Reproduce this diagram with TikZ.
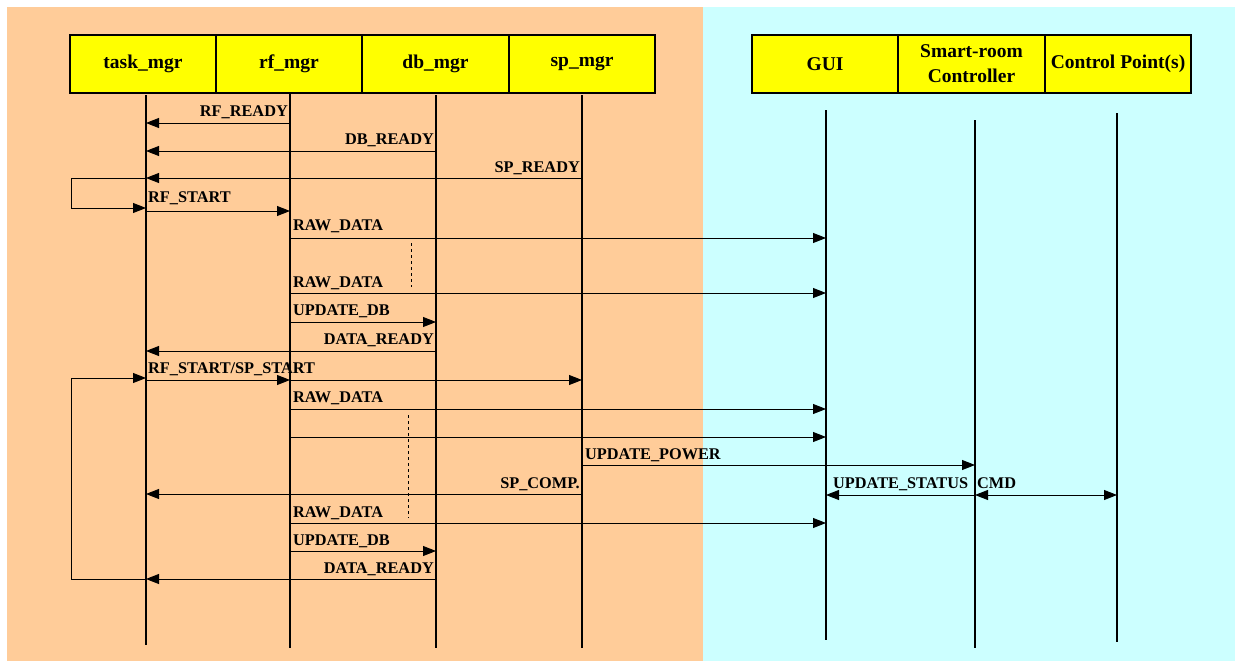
\documentclass[tikz,border=0pt]{standalone}
\usepackage{fontspec}
\setmainfont{Liberation Serif}
\usetikzlibrary{arrows.meta}
\definecolor{bgorange}{RGB}{255,204,153}
\definecolor{bgcyan}{RGB}{204,255,255}
\definecolor{hdryellow}{RGB}{255,255,0}
\tikzset{
  hdr/.style={draw=black, line width=1.6pt, fill=hdryellow, minimum width=146pt, minimum height=58pt, inner sep=0pt, align=center, font=\fontsize{19.5}{25}\selectfont\bfseries},
  life/.style={line width=1.1pt, black},
  msg/.style={line width=0.9pt, -{Triangle[length=13pt,width=10pt]}},
  bimsg/.style={line width=0.9pt, {Triangle[length=13pt,width=10pt]}-{Triangle[length=13pt,width=10pt]}},
  plain/.style={line width=0.9pt},
  lbl/.style={inner sep=0pt, font=\fontsize{16.3}{18}\selectfont\bfseries},
  dashv/.style={line width=0.9pt, dash pattern=on 3pt off 3pt}
}
\begin{document}
\begin{tikzpicture}[x=1pt,y=-1pt]
\useasboundingbox (0,0) rectangle (1237,661);
\fill[white] (0,0) rectangle (1237,661);
\fill[bgorange] (7,7) rectangle (703,661);
\fill[bgcyan] (703,7) rectangle (1235,661);

% headers
\node[hdr] (task) at (143,64) {task\_mgr};
\node[hdr] (rf) at (289,64) {rf\_mgr};
\node[hdr] (db) at (435.5,64) {db\_mgr};
\node[hdr] (sp) at (582,64) {sp\_mgr};
\node[hdr] (gui) at (825,64) {GUI};
\node[hdr] (smart) at (971.5,64) {Smart-room\\Controller};
\node[hdr] (cp) at (1118,64) {Control Point(s)};

% lifeline x positions
\coordinate (t) at (146,0);
\coordinate (r) at (290,0);
\coordinate (d) at (436,0);
\coordinate (s) at (582,0);
\coordinate (g) at (826,0);
\coordinate (c) at (975,0);
\coordinate (p) at (1117,0);

\draw[life] (t |- 0,95) -- (t |- 0,645);
\draw[life] (r |- 0,93) -- (r |- 0,648);
\draw[life] (d |- 0,95) -- (d |- 0,648);
\draw[life] (s |- 0,95) -- (s |- 0,648);
\draw[life] (g |- 0,110) -- (g |- 0,640);
\draw[life] (c |- 0,120) -- (c |- 0,648);
\draw[life] (p |- 0,113) -- (p |- 0,642);

% loop corners
\coordinate (l1a) at (71,178);
\coordinate (l1b) at (71,208);
\coordinate (l2a) at (71,378);
\coordinate (l2b) at (71,579);

% messages
\draw[msg] (r |- 0,123) -- (t |- 0,123);
\node[lbl, anchor=base east] (m1) at (288,116) {RF\_READY};
\draw[msg] (d |- 0,151) -- (t |- 0,151);
\node[lbl, anchor=base east] (m2) at (434,144) {DB\_READY};
\draw[msg] (s |- 0,178) -- (t |- 0,178);
\node[lbl, anchor=base east] (m3) at (580,172) {SP\_READY};
\draw[msg] (t |- l1a) -- (l1a) -- (l1b) -- (t |- l1b);
\draw[msg] (t |- 0,211) -- (r |- 0,211);
\node[lbl, anchor=base west] (m4) at (148,202) {RF\_START};
\draw[msg] (r |- 0,238) -- (g |- 0,238);
\node[lbl, anchor=base west] (m5) at (293,230) {RAW\_DATA};
\draw[dashv] (411,243) -- (411,287);
\draw[msg] (r |- 0,293) -- (g |- 0,293);
\node[lbl, anchor=base west] (m6) at (293,287) {RAW\_DATA};
\draw[msg] (r |- 0,322) -- (d |- 0,322);
\node[lbl, anchor=base west] (m7) at (293,315) {UPDATE\_DB};
\draw[msg] (d |- 0,351) -- (t |- 0,351);
\node[lbl, anchor=base east] (m8) at (434,344) {DATA\_READY};

\draw[msg] (l2b) -- (l2a) -- (t |- l2a);
\draw[msg] (t |- 0,380) -- (r |- 0,380);
\draw[msg] (r |- 0,380) -- (s |- 0,380);
\node[lbl, anchor=base west] (m9) at (148,373) {RF\_START/SP\_START};
\draw[msg] (r |- 0,409) -- (g |- 0,409);
\node[lbl, anchor=base west] (m10) at (293,402) {RAW\_DATA};
\draw[msg] (r |- 0,437) -- (g |- 0,437);
\draw[dashv] (408,415) -- (408,518);
\draw[msg] (s |- 0,465) -- (c |- 0,465);
\node[lbl, anchor=base west] (m11) at (585,459) {UPDATE\_POWER};
\draw[msg] (s |- 0,494) -- (t |- 0,494);
\node[lbl, anchor=base east] (m12) at (580,488) {SP\_COMP.};
\draw[msg] (c |- 0,495) -- (g |- 0,495);
\node[lbl, anchor=base west] (m13) at (833,488) {UPDATE\_STATUS};
\draw[bimsg] (c |- 0,495) -- (p |- 0,495);
\node[lbl, anchor=base west] (m14) at (977,488) {CMD};
\draw[msg] (r |- 0,523) -- (g |- 0,523);
\node[lbl, anchor=base west] (m15) at (293,517) {RAW\_DATA};
\draw[msg] (r |- 0,551) -- (d |- 0,551);
\node[lbl, anchor=base west] (m16) at (293,545) {UPDATE\_DB};
\draw[plain] (l2b) -- (t |- l2b);
\draw[msg] (d |- 0,579) -- (t |- 0,579);
\node[lbl, anchor=base east] (m17) at (434,573) {DATA\_READY};
\end{tikzpicture}
\end{document}
